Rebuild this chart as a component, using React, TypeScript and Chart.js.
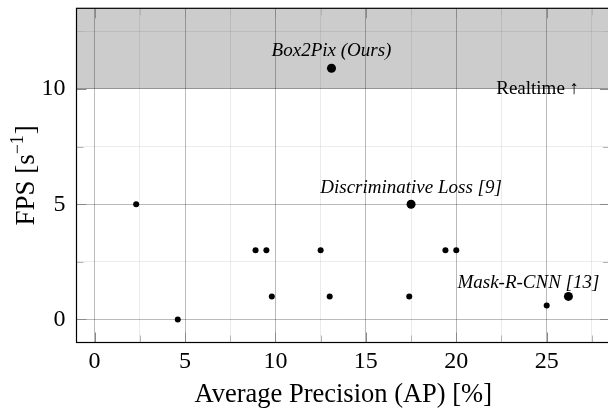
import React, { useEffect, useRef } from 'react';
import { Chart, registerables } from 'chart.js';

Chart.register(...registerables);

// ---- data ----
const otherAP = [2.3, 4.6, 8.9, 9.5, 9.8, 12.5, 13.0, 17.4, 19.4, 20.0, 25.0];
const otherFPS = [5, 0, 3, 3, 1, 3, 1, 1, 3, 3, 0.6];

const namedMethods = ['Box2Pix (Ours)', 'Discriminative Loss [9]', 'Mask-R-CNN [13]'];
const namedAP = [13.1, 17.5, 26.2];
const namedFPS = [10.9, 5, 1];

const xMin = -1;
const xMax = 28.5;
const yMin = -1;
const yMax = 13.5;
const tickStep = 2.5;
const labelStep = 5;

const realtimeFPS = 10;
const realtimeLabel = 'Realtime ↑';
const realtimeLabelAP = 24.5;

const xTitle = 'Average Precision (AP) [%]';
const yTitleMain = 'FPS [s';
const yTitleSup = '−1';
const yTitleEnd = ']';

// ---- styles ----
const SERIF = '"Liberation Serif", "Times New Roman", serif';
const namedLabelOffsets = [
  { dx: 0, dy: -12 },
  { dx: 0, dy: -11 },
  { dx: -40, dy: -8 },
];

const isMajor = (v: number) => Math.abs(v / labelStep - Math.round(v / labelStep)) < 1e-6;

const decor = {
  id: 'decor',
  beforeDraw(chart: any) {
    const { ctx, chartArea: a, scales } = chart;
    const yb = scales.y.getPixelForValue(realtimeFPS);
    ctx.save();
    ctx.fillStyle = '#cccccc';
    ctx.fillRect(a.left, a.top, a.right - a.left, yb - a.top);
    ctx.restore();
  },
  afterDraw(chart: any) {
    const { ctx, chartArea: a, scales } = chart;
    const x = scales.x;
    const y = scales.y;
    ctx.save();
    // labels of named methods
    ctx.fillStyle = '#000';
    ctx.font = `italic 19px ${SERIF}`;
    ctx.textAlign = 'center';
    ctx.textBaseline = 'alphabetic';
    namedMethods.forEach((name, i) => {
      const px = x.getPixelForValue(namedAP[i]);
      const py = y.getPixelForValue(namedFPS[i]);
      const o = namedLabelOffsets[i];
      ctx.fillText(name, px + o.dx, py + o.dy);
    });
    // realtime label
    ctx.font = `19px ${SERIF}`;
    ctx.fillText(realtimeLabel, x.getPixelForValue(realtimeLabelAP), y.getPixelForValue(realtimeFPS) + 5.5);

    // inward tick marks
    ctx.lineWidth = 1;
    const drawTicks = (major: boolean) => {
      ctx.strokeStyle = major ? '#8a8a8a' : '#b4b4b4';
      const len = major ? 10 : 7;
      ctx.beginPath();
      x.ticks.forEach((t: any) => {
        if (isMajor(t.value) !== major) return;
        const px = Math.round(x.getPixelForValue(t.value)) + 0.5;
        ctx.moveTo(px, a.bottom);
        ctx.lineTo(px, a.bottom - len);
        ctx.moveTo(px, a.top);
        ctx.lineTo(px, a.top + len);
      });
      y.ticks.forEach((t: any) => {
        if (isMajor(t.value) !== major) return;
        const py = Math.round(y.getPixelForValue(t.value)) + 0.5;
        ctx.moveTo(a.left, py);
        ctx.lineTo(a.left + len, py);
        ctx.moveTo(a.right, py);
        ctx.lineTo(a.right - len, py);
      });
      ctx.stroke();
    };
    drawTicks(false);
    drawTicks(true);

    // frame
    ctx.strokeStyle = '#000';
    ctx.lineWidth = 1.2;
    ctx.strokeRect(a.left, a.top, a.right - a.left, a.bottom - a.top);

    // x title
    ctx.fillStyle = '#000';
    ctx.font = `26.5px ${SERIF}`;
    ctx.textAlign = 'center';
    ctx.textBaseline = 'alphabetic';
    ctx.fillText(xTitle, (a.left + a.right) / 2, 402);

    // y title with superscript
    const mainFont = `27px ${SERIF}`;
    const supFont = `18px ${SERIF}`;
    ctx.font = mainFont;
    const w1 = ctx.measureText(yTitleMain).width;
    const w3 = ctx.measureText(yTitleEnd).width;
    ctx.font = supFont;
    const w2 = ctx.measureText(yTitleSup).width;
    const total = w1 + w2 + 1 + w3;
    ctx.translate(34, (a.top + a.bottom) / 2);
    ctx.rotate(-Math.PI / 2);
    ctx.textAlign = 'left';
    let cx = -total / 2;
    ctx.font = mainFont;
    ctx.fillText(yTitleMain, cx, 0);
    cx += w1;
    ctx.font = supFont;
    ctx.fillText(yTitleSup, cx, -11);
    cx += w2 + 1;
    ctx.font = mainFont;
    ctx.fillText(yTitleEnd, cx, 0);
    ctx.restore();
  },
};

export default function App() {
  const ref = useRef<HTMLCanvasElement | null>(null);

  useEffect(() => {
    if (!ref.current) return;
    const gridColor = (c: any) =>
      isMajor(c.tick.value) ? 'rgba(0,0,0,0.27)' : 'rgba(0,0,0,0.08)';
    const tickCallback = (v: any) => (isMajor(Number(v)) ? String(v) : '');

    const chart = new Chart(ref.current, {
      type: 'scatter',
      data: {
        datasets: [
          {
            label: 'others',
            data: otherAP.map((v, i) => ({ x: v, y: otherFPS[i] })),
            pointRadius: 3,
            pointBackgroundColor: '#000',
            pointBorderWidth: 0,
            showLine: false,
          },
          {
            label: 'named',
            data: namedAP.map((v, i) => ({ x: v, y: namedFPS[i] })),
            pointRadius: 4.5,
            pointBackgroundColor: '#000',
            pointBorderWidth: 0,
            showLine: false,
          },
        ],
      },
      options: {
        animation: false,
        responsive: false,
        events: [],
        layout: { autoPadding: false, padding: { top: 8.3, right: 0, bottom: 0, left: 0 } },
        plugins: { legend: { display: false }, tooltip: { enabled: false } },
        scales: {
          x: {
            type: 'linear',
            min: xMin,
            max: xMax,
            afterFit: (s: any) => {
              s.height = 65.5;
              s.paddingLeft = 0;
              s.paddingRight = 0;
            },
            border: { display: false },
            grid: { color: gridColor, drawTicks: false, lineWidth: 1 },
            ticks: {
              stepSize: tickStep,
              includeBounds: false,
              autoSkip: false,
              maxRotation: 0,
              padding: 5,
              color: '#000',
              font: { family: SERIF, size: 24 },
              callback: tickCallback,
            },
          },
          y: {
            type: 'linear',
            min: yMin,
            max: yMax,
            afterFit: (s: any) => {
              s.width = 76.5;
              s.paddingTop = 0;
              s.paddingBottom = 0;
            },
            border: { display: false },
            grid: { color: gridColor, drawTicks: false, lineWidth: 1 },
            ticks: {
              stepSize: tickStep,
              includeBounds: false,
              autoSkip: false,
              padding: 11,
              color: '#000',
              font: { family: SERIF, size: 24 },
              callback: tickCallback,
            },
          },
        },
      },
      plugins: [decor],
    } as any);
    return () => chart.destroy();
  }, []);

  return (
    <div
      style={{
        position: 'fixed',
        left: 0,
        top: 0,
        width: 608,
        height: 408,
        overflow: 'hidden',
        background: '#fff',
      }}
    >
      <canvas ref={ref} width={610} height={408} style={{ display: 'block' }} />
    </div>
  );
}
